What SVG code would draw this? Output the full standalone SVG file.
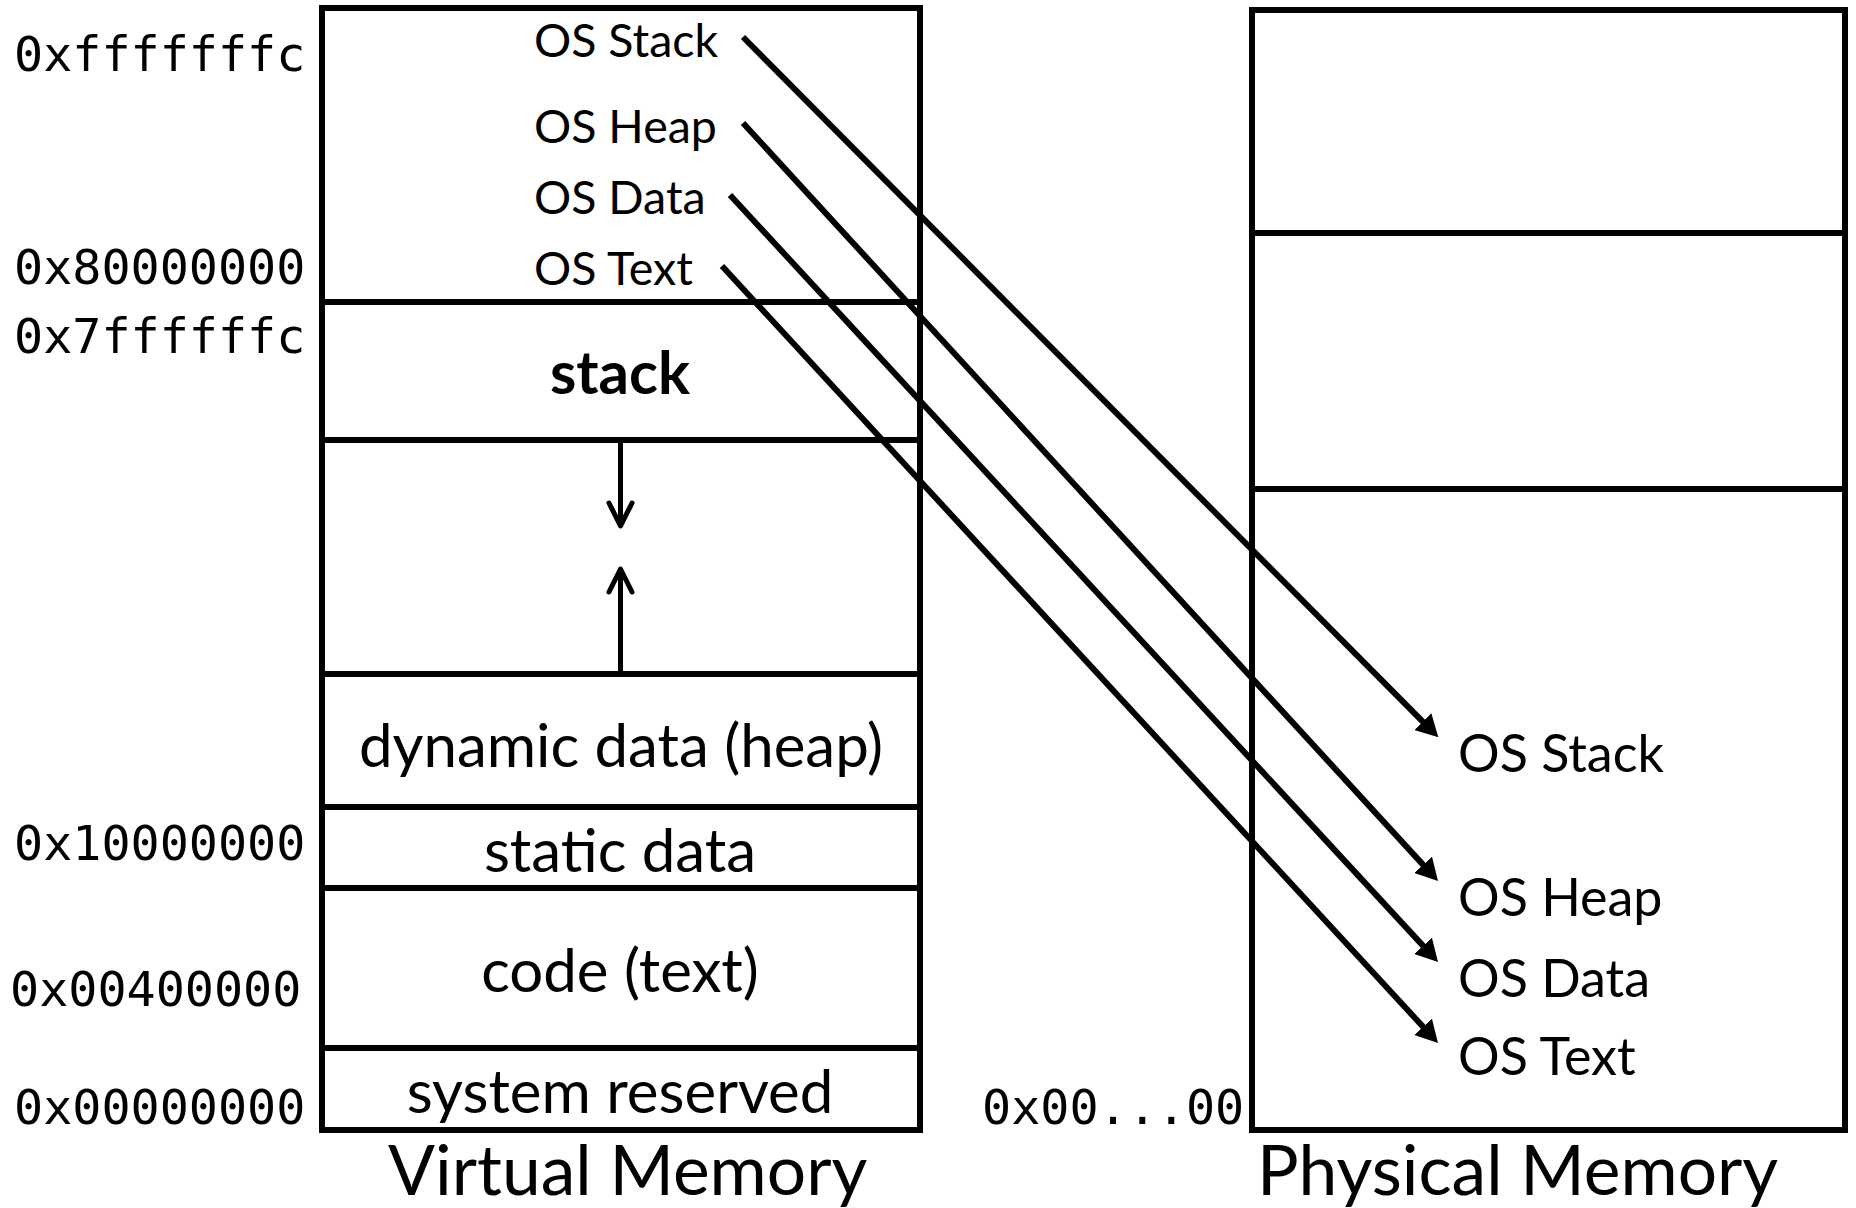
<svg xmlns="http://www.w3.org/2000/svg" width="1856" height="1208" viewBox="0 0 1856 1208">
<defs>
<style>
.box{fill:none;stroke:#000;stroke-width:6;stroke-linejoin:miter}
.div{stroke:#000;stroke-width:6}
.conn{stroke:#000;stroke-width:6;fill:none}
.small{stroke:#000;stroke-width:5;fill:none;stroke-linecap:round;stroke-linejoin:round}
.addr{font-family:"DejaVu Sans Mono","Liberation Mono",monospace;font-size:48.4px;fill:#000}
.os{font-family:Lato,"Open Sans",sans-serif;font-size:46.5px;fill:#000}
.osr{font-family:Lato,"Open Sans",sans-serif;font-size:52px;fill:#000}
.reg{font-family:Lato,"Open Sans",sans-serif;font-size:60px;fill:#000;text-anchor:middle}
.title{font-family:Lato,"Open Sans",sans-serif;font-size:69.5px;fill:#000}
</style>
<marker id="ah" markerUnits="userSpaceOnUse" markerWidth="22" markerHeight="24" refX="14" refY="12" orient="auto">
<path d="M0,0 L22,12 L0,24 z" fill="#000"/>
</marker>
</defs>
<rect width="1856" height="1208" fill="#fff"/>

<g id="virtual-memory">
<rect class="box" x="322" y="8" width="598" height="1122"/>
<line class="div" x1="322" y1="302" x2="920" y2="302"/>
<line class="div" x1="322" y1="440" x2="920" y2="440"/>
<line class="div" x1="322" y1="674" x2="920" y2="674"/>
<line class="div" x1="322" y1="807" x2="920" y2="807"/>
<line class="div" x1="322" y1="888" x2="920" y2="888"/>
<line class="div" x1="322" y1="1048" x2="920" y2="1048"/>
<text class="os" x="534" y="57">OS Stack</text>
<text class="os" x="534" y="143">OS Heap</text>
<text class="os" x="534" y="214">OS Data</text>
<text class="os" x="534" y="285">OS Text</text>
<text class="reg" x="620" y="394" font-weight="bold" font-size="58">stack</text>
<line class="small" x1="620.5" y1="440" x2="620.5" y2="525"/>
<polyline class="small" points="609,503 620.5,526 632,503"/>
<line class="small" x1="620.5" y1="674" x2="620.5" y2="570"/>
<polyline class="small" points="609,592 620.5,569 632,592"/>
<text class="reg" x="621" y="767" font-size="61">dynamic data (heap)</text>
<text class="reg" x="620" y="872" font-size="59.5">static data</text>
<text class="reg" x="620" y="992" font-size="60.5">code (text)</text>
<text class="reg" x="620" y="1113">system reserved</text>
<text class="title" x="388" y="1195">Virtual Memory</text>
</g>

<g id="addresses">
<text class="addr" x="14" y="71">0xfffffffc</text>
<text class="addr" x="14" y="284">0x80000000</text>
<text class="addr" x="14" y="353">0x7ffffffc</text>
<text class="addr" x="14" y="860">0x10000000</text>
<text class="addr" x="10" y="1006">0x00400000</text>
<text class="addr" x="14" y="1124">0x00000000</text>
<text class="addr" x="982" y="1124">0x00...00</text>
</g>

<g id="physical-memory">
<rect class="box" x="1252" y="10" width="593" height="1120"/>
<line class="div" x1="1252" y1="233" x2="1845" y2="233"/>
<line class="div" x1="1252" y1="489" x2="1845" y2="489"/>
<text class="osr" x="1458" y="772">OS Stack</text>
<text class="osr" x="1458" y="916">OS Heap</text>
<text class="osr" x="1458" y="997">OS Data</text>
<text class="osr" x="1458" y="1075">OS Text</text>
<text class="title" x="1257" y="1195">Physical Memory</text>
</g>

<g id="connectors">
<line class="conn" x1="743" y1="37" x2="1432.7" y2="731.6" marker-end="url(#ah)"/>
<line class="conn" x1="743" y1="123" x2="1432.6" y2="875.1" marker-end="url(#ah)"/>
<line class="conn" x1="730" y1="195" x2="1432.6" y2="956.1" marker-end="url(#ah)"/>
<line class="conn" x1="722" y1="266" x2="1432.6" y2="1037.1" marker-end="url(#ah)"/>
</g>
</svg>
